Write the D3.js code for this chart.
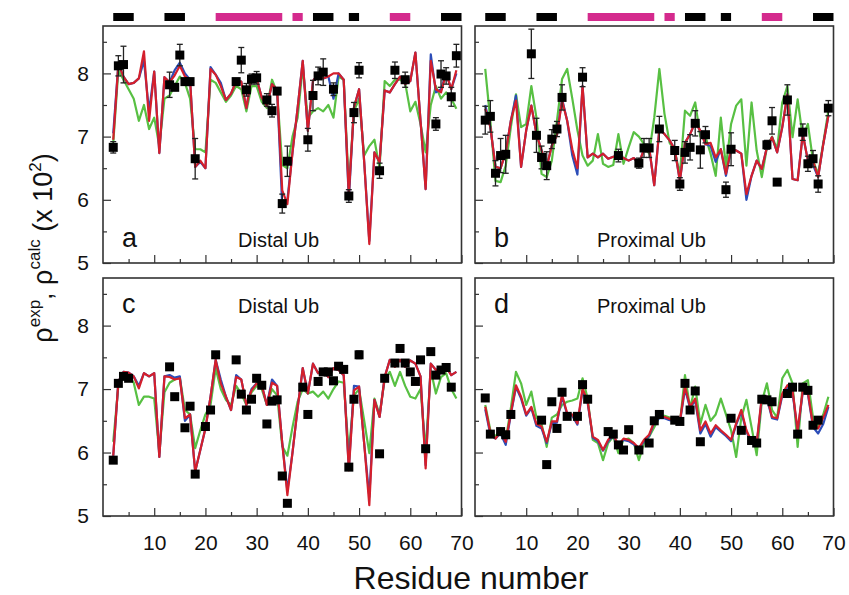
<!DOCTYPE html>
<html>
<head>
<meta charset="utf-8">
<script src="https://cdn.jsdelivr.net/npm/d3@7"></script>
<style>
  body { margin: 0; background: #fff; }
  text { font-family: Arial, "Liberation Sans", sans-serif; fill: #111; }
</style>
</head>
<body>
<div id="chart"></div>
<script>
// residue numbers for the computed curves
var residues = d3.range(2, 70);

// secondary structure bars along the top (b = strand, h = helix)
var ssStart = [2, 12, 22, 37, 41, 48, 56, 66];
var ssEnd = [6, 16, 35, 39, 45, 50, 60, 70];
var ssType = ["b", "b", "h", "h", "b", "b", "h", "b"];

// panel a - distal Ub
var aRed = [6.95,8.15,7.95,7.83,7.85,7.92,8.35,7.25,8.03,6.74,7.94,7.86,7.97,8.12,7.95,7.9,6.52,6.62,6.5,8.07,
  7.98,7.8,7.58,7.68,7.88,7.87,7.45,7.95,7.92,7.62,7.48,7.83,7.74,6.15,5.93,6.75,7.45,8.2,7.09,7.88,
  7.99,7.92,7.95,8.0,8.0,7.9,6.07,7.46,7.75,6.6,5.3,6.75,6.6,7.73,7.7,7.83,7.95,7.83,7.88,8.33,
  7.25,6.17,8.2,7.75,7.7,8.0,7.75,8.05];
var aBlue = [7.05,8.15,7.95,7.83,7.85,7.92,8.2,7.4,8.03,6.74,7.94,7.86,8.05,8.17,8.0,7.9,6.52,6.6,6.5,8.1,
  7.98,7.85,7.58,7.68,7.88,7.87,7.45,7.95,7.92,7.62,7.48,7.83,7.74,5.9,6.0,6.75,7.45,8.2,7.09,7.88,
  7.99,7.92,7.95,7.6,8.0,7.9,6.0,7.46,7.75,6.6,5.35,6.75,6.6,7.73,7.7,7.83,7.95,7.83,7.88,8.33,
  7.25,6.17,8.3,7.7,7.75,8.0,7.75,8.0];
var aGreen = [6.9,8.05,7.9,7.75,7.6,7.25,7.5,7.12,7.3,6.85,7.6,7.65,7.8,7.95,7.85,7.6,6.8,6.8,6.75,7.9,
  7.85,7.7,7.55,7.65,7.8,7.75,7.4,7.8,7.8,7.55,7.45,7.9,7.7,6.55,6.5,7.0,7.3,8.1,7.3,7.4,
  7.45,7.4,7.5,7.3,7.95,7.9,6.2,7.4,7.6,6.7,6.85,6.95,6.5,7.88,7.8,7.9,7.9,7.85,7.4,7.55,
  7.2,6.75,7.5,7.8,7.6,7.7,7.6,7.44];
var aExp = [[2,6.83,0.09],[3,8.12,0.16],[4,8.14,0.29],[13,7.82,0.2],[14,7.78,0.05],[15,8.29,0.17],[16,7.87,0.05],
  [17,7.87,0.05],[18,6.65,0.32],[26,7.87,0.05],[27,8.21,0.2],[28,7.74,0.1],[29,7.91,0.08],[30,7.93,0.1],
  [32,7.58,0.1],[33,7.41,0.1],[34,7.72,0.05],[35,5.94,0.15],[36,6.61,0.24],[40,6.95,0.18],[41,7.65,0.24],
  [42,7.96,0.14],[43,8.02,0.21],[45,7.75,0.1],[48,6.06,0.1],[49,7.38,0.16],[50,8.05,0.12],[54,6.46,0.12],
  [57,8.05,0.13],[59,7.9,0.12],[65,7.2,0.1],[66,7.99,0.21],[67,7.96,0.13],[68,7.63,0.15],[69,8.28,0.18]];

// panel b - proximal Ub
var bRed = [7.44,7.15,6.52,6.5,6.75,7.25,7.57,6.52,7.1,7.49,7.04,6.78,6.52,6.86,7.02,7.57,7.25,6.8,6.5,7.8,
  6.67,6.73,6.67,6.73,6.65,6.68,6.7,6.66,6.62,6.66,6.57,6.8,6.83,6.23,7.12,7.04,6.94,6.8,6.3,6.9,
  7.04,7.23,7.09,6.88,6.9,6.67,6.8,6.41,6.8,6.78,6.73,6.09,6.38,6.62,6.49,6.83,6.99,6.75,7.15,7.67,
  6.33,6.31,7.04,6.62,6.62,6.36,6.88,7.33];
var bBlue = [7.5,7.15,6.52,6.5,6.75,7.25,7.65,6.52,7.1,7.49,7.04,6.78,6.52,6.86,7.02,7.6,7.25,6.7,6.4,7.8,
  6.67,6.73,6.67,6.73,6.65,6.68,6.7,6.66,6.62,6.66,6.57,6.8,6.83,6.23,7.12,7.04,6.94,6.8,6.3,6.9,
  7.04,7.23,7.09,6.88,6.85,6.6,6.8,6.38,6.8,6.78,6.73,6.0,6.38,6.62,6.49,6.83,6.99,6.75,7.15,7.67,
  6.33,6.31,7.04,6.62,6.55,6.36,6.88,7.33];
var bGreen = [8.07,7.25,6.3,6.28,6.54,7.15,7.67,7.15,7.2,7.8,7.3,6.41,6.36,6.62,7.25,7.91,8.07,7.6,7.1,6.7,
  6.54,6.62,7.04,6.57,6.52,6.55,7.04,6.57,6.83,7.07,7.0,6.88,6.73,7.3,8.07,7.36,6.9,6.78,6.4,7.41,
  7.33,7.54,7.0,7.0,6.73,6.38,7.3,6.52,7.2,7.49,7.59,6.54,7.54,6.78,6.36,6.83,7.0,6.8,7.54,7.8,
  6.99,7.59,6.99,7.2,6.62,6.41,6.9,7.41];
var bExp = [[2,7.26,0.22],[3,7.32,0.25],[4,6.42,0.2],[5,6.7,0.27],[6,6.72,0.3],[11,8.31,0.39],[12,7.02,0.27],
  [13,6.67,0.18],[14,6.54,0.22],[15,6.96,0.15],[16,7.12,0.12],[17,7.62,0.2],[21,7.94,0.15],[28,6.7,0.1],
  [32,6.58,0.08],[33,6.82,0.15],[34,6.82,0.15],[36,7.12,0.2],[39,6.78,0.16],[40,6.25,0.1],[41,6.75,0.17],
  [42,6.83,0.2],[43,7.21,0.2],[44,6.79,0.29],[45,7.03,0.13],[49,6.16,0.12],[50,6.8,0.26],[57,6.87,0.07],
  [58,7.25,0.21],[59,6.28,0.03],[61,7.58,0.24],[64,7.07,0.13],[65,6.57,0.12],[66,6.65,0.13],[67,6.25,0.13],
  [69,7.45,0.12]];

// panel c - distal Ub
var cRed = [5.95,7.12,7.27,7.26,7.2,7.01,7.25,7.2,7.25,5.93,7.2,7.19,7.15,7.17,6.54,6.6,5.7,6.04,6.38,6.88,
  7.46,7.09,6.88,6.67,7.19,7.15,6.75,6.98,7.09,7.06,6.75,7.1,7.05,6.15,5.33,6.0,6.7,7.33,6.93,7.4,
  7.25,7.3,7.19,7.33,7.3,7.22,5.72,6.98,7.04,6.14,5.17,6.83,6.56,7.19,7.46,7.35,7.46,7.35,7.45,7.4,
  7.2,5.75,7.4,7.3,7.33,7.35,7.22,7.27];
var cBlue = [5.95,7.12,7.27,7.26,7.2,7.05,7.25,7.2,7.25,5.93,7.2,7.22,7.18,7.2,6.5,6.6,5.7,6.04,6.38,6.88,
  7.46,7.15,6.88,6.67,7.22,7.15,6.75,7.0,7.09,7.06,6.75,7.15,7.05,6.15,5.4,6.0,6.7,7.33,6.93,7.4,
  7.25,7.3,7.19,7.33,7.3,7.22,5.75,7.05,7.04,6.14,5.3,6.83,6.56,7.19,7.46,7.38,7.46,7.35,7.45,7.4,
  7.2,5.8,7.4,7.3,7.33,7.35,7.22,7.27];
var cGreen = [6.17,7.05,7.2,7.22,7.1,6.75,6.88,6.88,6.85,6.0,6.95,7.1,7.15,7.18,6.67,6.6,6.07,6.35,6.6,6.75,
  7.33,7.0,6.83,6.75,7.05,6.93,6.75,6.95,7.05,7.0,6.75,7.0,6.9,6.1,5.95,6.4,6.8,7.0,6.93,6.96,
  6.88,6.96,6.85,7.0,7.12,7.1,6.0,6.9,7.0,6.5,5.99,6.85,6.6,7.15,7.27,7.05,7.27,7.05,6.88,6.85,
  7.0,6.04,7.3,6.93,7.19,7.25,7.0,6.85];
var cExp = [[2,5.88,0.03],[3,7.09,0.03],[4,7.2,0.03],[5,7.17,0.03],[13,7.35,0.03],[14,6.88,0.03],[16,6.39,0.03],
  [17,6.73,0.03],[18,5.66,0.03],[20,6.41,0.03],[21,6.67,0.03],[22,7.54,0.04],[26,7.46,0.05],[27,6.92,0.03],
  [28,6.67,0.03],[29,6.84,0.03],[30,7.17,0.05],[31,7.06,0.03],[32,6.45,0.03],[33,6.81,0.03],[34,6.83,0.03],
  [35,5.63,0.03],[36,5.2,0.04],[39,7.03,0.03],[40,6.6,0.03],[42,7.12,0.03],[43,7.27,0.03],[44,7.27,0.03],
  [45,7.13,0.03],[46,7.36,0.05],[47,7.31,0.03],[48,5.77,0.03],[49,6.84,0.03],[50,7.54,0.06],[54,5.98,0.03],
  [55,7.17,0.05],[57,7.41,0.03],[58,7.64,0.03],[59,7.41,0.05],[60,7.27,0.03],[61,7.12,0.03],[62,7.46,0.03],
  [63,6.06,0.03],[64,7.59,0.04],[65,7.22,0.03],[66,7.3,0.03],[67,7.34,0.03],[68,7.03,0.04]];

// panel d - proximal Ub
var dRed = [6.72,6.31,6.22,6.33,6.17,6.62,7.06,6.88,6.6,6.72,6.45,6.41,6.17,6.49,6.49,6.91,6.62,6.6,6.46,7.01,
  6.8,6.25,6.2,6.04,6.2,6.28,6.12,6.22,6.2,6.15,6.07,6.2,6.28,6.49,6.56,6.56,6.53,6.51,6.49,7.04,
  6.72,6.85,6.35,6.49,6.3,6.43,6.35,6.28,6.2,6.46,6.67,6.35,6.17,6.15,6.88,6.88,6.56,6.54,6.93,7.06,
  6.98,6.35,6.98,6.95,6.43,6.38,6.55,6.75];
var dBlue = [6.68,6.28,6.22,6.3,6.12,6.6,7.03,6.85,6.58,6.7,6.42,6.38,6.15,6.46,6.47,6.88,6.6,6.58,6.44,6.98,
  6.78,6.23,6.18,6.03,6.18,6.26,6.1,6.2,6.18,6.13,6.05,6.18,6.26,6.47,6.54,6.54,6.51,6.5,6.47,7.0,
  6.7,6.82,6.3,6.45,6.25,6.4,6.33,6.26,6.18,6.44,6.64,6.33,6.15,6.13,6.85,6.85,6.54,6.52,6.9,7.04,
  6.95,6.33,6.95,6.92,6.4,6.3,6.45,6.72];
var dGreen = [6.75,6.35,6.25,6.38,6.2,6.7,7.27,7.09,6.75,6.96,6.55,6.45,6.09,6.55,6.6,6.75,6.8,6.82,6.85,7.17,
  6.85,6.2,6.15,5.88,6.15,6.25,5.99,6.2,6.22,6.15,5.88,6.15,6.25,6.4,6.56,6.58,6.55,6.5,6.45,7.22,
  6.7,7.04,6.45,6.75,6.5,6.6,6.85,6.6,6.35,5.93,6.55,6.83,6.4,5.96,6.8,7.09,6.67,6.55,7.17,7.3,
  7.09,6.09,7.09,7.14,6.55,6.4,6.6,6.88];
var dExp = [[2,6.86,0.03],[3,6.29,0.03],[5,6.33,0.03],[6,6.28,0.03],[7,6.6,0.03],[13,6.51,0.05],[14,5.81,0.03],
  [15,6.8,0.03],[16,6.38,0.03],[17,6.95,0.03],[18,6.57,0.04],[20,6.57,0.03],[21,7.07,0.04],[22,6.84,0.03],
  [26,6.33,0.03],[27,6.29,0.03],[28,6.12,0.03],[29,6.04,0.03],[30,6.36,0.03],[32,6.04,0.03],[34,6.15,0.03],
  [35,6.5,0.03],[36,6.6,0.03],[39,6.51,0.03],[40,6.49,0.03],[41,7.09,0.03],[42,6.67,0.03],[43,6.97,0.03],
  [44,6.17,0.03],[50,6.54,0.03],[52,6.35,0.03],[54,6.19,0.03],[55,6.15,0.03],[56,6.84,0.03],[57,6.83,0.03],
  [58,6.8,0.03],[61,6.93,0.03],[62,7.03,0.03],[63,6.29,0.03],[64,7.03,0.03],[65,6.98,0.03],[66,6.43,0.03],
  [67,6.51,0.04]];

var yTicks = [5, 6, 7, 8];
var yMinor = [5.5, 6.5, 7.5, 8.5];
var xTicks = [10, 20, 30, 40, 50, 60, 70];
var xMinor = [5, 15, 25, 35, 45, 55, 65];

var colors = { green: "#58c043", blue: "#2c4db8", red: "#d41f2c", helix: "#d42a8d" };

var panels = [
  { label: "a", name: "Distal Ub", x0: 103, x1: 461.5, y0: 26, y1: 263, lab: 247, red: aRed, blue: aBlue, green: aGreen, exp: aExp, yLabels: true, xLabels: false },
  { label: "b", name: "Proximal Ub", x0: 475, x1: 833.5, y0: 26, y1: 263, lab: 247, red: bRed, blue: bBlue, green: bGreen, exp: bExp, yLabels: false, xLabels: false },
  { label: "c", name: "Distal Ub", x0: 103, x1: 461.5, y0: 278, y1: 516, lab: 313, red: cRed, blue: cBlue, green: cGreen, exp: cExp, yLabels: true, xLabels: true },
  { label: "d", name: "Proximal Ub", x0: 475, x1: 833.5, y0: 278, y1: 516, lab: 313, red: dRed, blue: dBlue, green: dGreen, exp: dExp, yLabels: false, xLabels: true }
];

var svg = d3.select("#chart").append("svg")
  .attr("width", 849)
  .attr("height", 595);

panels.forEach(function (p, i) {
  var x = d3.scaleLinear().domain([0, 70]).range([p.x0, p.x1]);
  var y = d3.scaleLinear().domain([5, 8.75]).range([p.y1, p.y0]);
  var g = svg.append("g");

  svg.append("clipPath").attr("id", "clip" + i)
    .append("rect").attr("x", p.x0).attr("y", p.y0)
    .attr("width", p.x1 - p.x0).attr("height", p.y1 - p.y0);

  // secondary structure bars above the top panels
  if (i < 2) {
    g.selectAll("rect.ss")
      .data(ssStart)
      .enter().append("rect")
      .attr("class", "ss")
      .attr("x", function (d) { return x(d); })
      .attr("width", function (d, k) { return x(ssEnd[k]) - x(d); })
      .attr("y", 13)
      .attr("height", 8)
      .style("fill", function (d, k) { return ssType[k] === "h" ? colors.helix : "#000"; });
  }

  // ticks (pointing inwards)
  g.append("g").attr("transform", "translate(" + p.x0 + ",0)")
    .call(d3.axisLeft(y).tickValues(yTicks).tickSize(-8).tickPadding(14)
      .tickFormat(p.yLabels ? d3.format("d") : function () { return ""; }));
  g.append("g").attr("transform", "translate(" + p.x0 + ",0)")
    .call(d3.axisLeft(y).tickValues(yMinor).tickSize(-4).tickFormat(""));
  g.append("g").attr("transform", "translate(0," + p.y1 + ")")
    .call(d3.axisBottom(x).tickValues(xTicks).tickSize(-8).tickPadding(19)
      .tickFormat(p.xLabels ? d3.format("d") : function () { return ""; }));
  g.append("g").attr("transform", "translate(0," + p.y1 + ")")
    .call(d3.axisBottom(x).tickValues(xMinor).tickSize(-4).tickFormat(""));
  g.selectAll(".domain").remove();
  g.selectAll(".tick line").style("stroke", "#333").style("stroke-width", 1.2);
  g.selectAll(".tick text").style("font-size", "21px").style("fill", "#111")
    .style("font-family", "Arial, 'Liberation Sans', sans-serif");

  // computed curves
  var line = d3.line()
    .x(function (d, k) { return x(residues[k]); })
    .y(function (d) { return y(d); });
  var curves = g.append("g").attr("clip-path", "url(#clip" + i + ")");
  [["green", p.green], ["blue", p.blue], ["red", p.red]].forEach(function (c) {
    curves.append("path")
      .datum(c[1])
      .attr("d", line)
      .style("fill", "none")
      .style("stroke", colors[c[0]])
      .style("stroke-width", 2.2)
      .style("stroke-linejoin", "round");
  });

  // experimental points with error bars
  var pts = g.append("g");
  var eb = pts.selectAll("g.err").data(p.exp).enter().append("g").attr("class", "err");
  eb.append("line")
    .attr("x1", function (d) { return x(d[0]); })
    .attr("x2", function (d) { return x(d[0]); })
    .attr("y1", function (d) { return y(d[1] - d[2]); })
    .attr("y2", function (d) { return y(d[1] + d[2]); })
    .style("stroke", "#222").style("stroke-width", 1.3);
  [-1, 1].forEach(function (s) {
    eb.append("line")
      .attr("x1", function (d) { return x(d[0]) - 3; })
      .attr("x2", function (d) { return x(d[0]) + 3; })
      .attr("y1", function (d) { return y(d[1] + s * d[2]); })
      .attr("y2", function (d) { return y(d[1] + s * d[2]); })
      .style("stroke", "#222").style("stroke-width", 1.3);
  });
  pts.selectAll("rect.pt").data(p.exp).enter().append("rect")
    .attr("class", "pt")
    .attr("x", function (d) { return x(d[0]) - 4.5; })
    .attr("y", function (d) { return y(d[1]) - 4.5; })
    .attr("width", 9).attr("height", 9)
    .style("fill", "#000");

  // frame
  g.append("rect")
    .attr("x", p.x0).attr("y", p.y0)
    .attr("width", p.x1 - p.x0).attr("height", p.y1 - p.y0)
    .style("fill", "none").style("stroke", "#333").style("stroke-width", 1.6);

  // panel letter and name
  g.append("text").attr("x", p.x0 + 19).attr("y", p.lab)
    .style("font-size", "27px").text(p.label);
  g.append("text").attr("x", p.x0 + (i % 2 ? 122 : 135)).attr("y", p.lab)
    .style("font-size", "20px").text(p.name);
});

// axis titles
svg.append("text")
  .attr("x", 471).attr("y", 589)
  .attr("text-anchor", "middle")
  .style("font-size", "32px")
  .text("Residue number");

var yt = svg.append("text")
  .attr("transform", "translate(52,248) rotate(-90)")
  .attr("text-anchor", "middle")
  .style("font-size", "27px");
yt.append("tspan").text("\u03C1");
yt.append("tspan").attr("dy", -12).style("font-size", "17px").text("exp");
yt.append("tspan").attr("dy", 12).text(", \u03C1");
yt.append("tspan").attr("dy", -12).style("font-size", "17px").text("calc");
yt.append("tspan").attr("dy", 12).text("  (x 10");
yt.append("tspan").attr("dy", -11).style("font-size", "17px").text("2");
yt.append("tspan").attr("dy", 11).text(")");
</script>
</body>
</html>
